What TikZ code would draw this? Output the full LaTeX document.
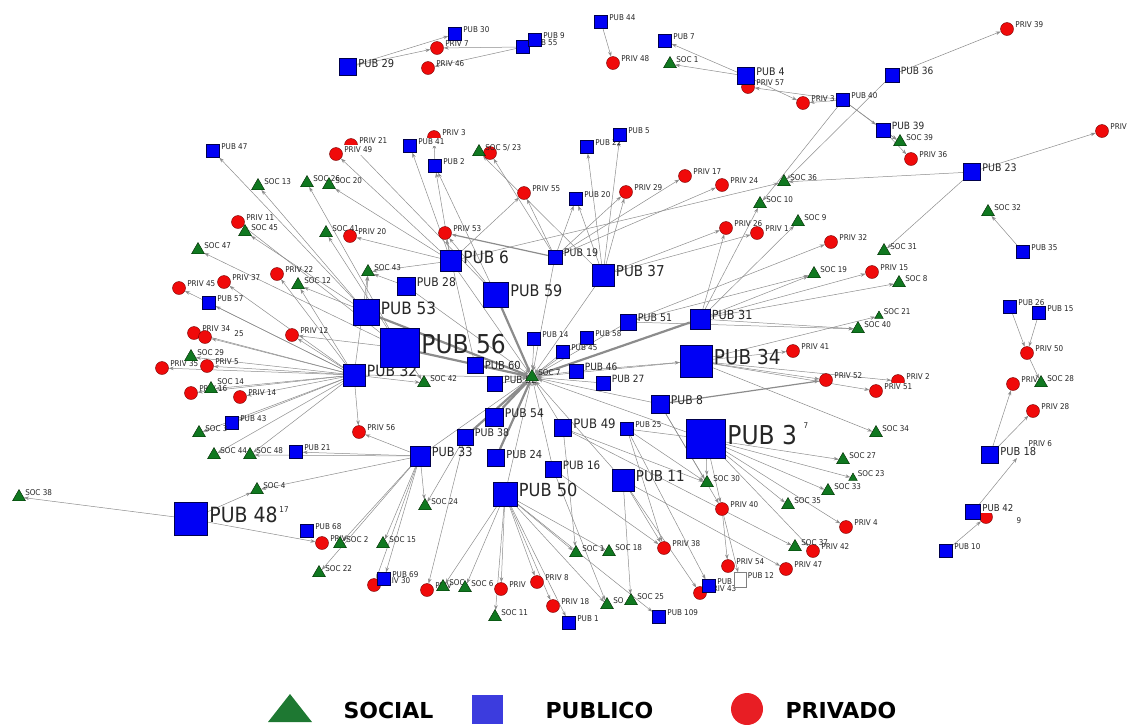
\documentclass[tikz,border=0pt]{standalone}
\usepackage{fontspec}
\setsansfont{DejaVu Sans}[FakeStretch=0.9]
\newfontfamily\legfont{DejaVu Sans}
\usetikzlibrary{shapes.geometric,arrows.meta}
\definecolor{pubblue}{RGB}{0,0,245}
\definecolor{privred}{RGB}{240,10,10}
\definecolor{socgreen}{RGB}{16,120,32}
\definecolor{edgegray}{RGB}{140,140,140}
\definecolor{legblue}{RGB}{60,60,222}
\definecolor{legred}{RGB}{232,30,36}
\definecolor{leggreen}{RGB}{30,120,50}
\pgfdeclarelayer{bg}
\pgfsetlayers{bg,main}
\tikzset{
  pubsq/.style={rectangle,draw=blue!30!black,line width=0.4pt,fill=pubblue,minimum size=13pt,inner sep=0pt},
  privdot/.style={circle,draw=red!45!black,line width=0.4pt,fill=privred,minimum size=13pt,inner sep=0pt},
  soctri/.style={regular polygon,regular polygon sides=3,draw=green!15!black,line width=0.4pt,fill=socgreen,minimum size=15pt,inner sep=0pt},
  lbl/.style={font=\sffamily\fontsize{8}{9}\selectfont,text=black!85,inner sep=1.5pt},
  tag/.style={label={[lbl,yshift=4pt]right:#1}},
  tagw/.style={label={[lbl,yshift=4pt,fill=white]right:#1}},
  edge/.style={draw=edgegray,line width=0.5pt,-{Stealth[length=5pt,width=3.5pt]}},
  heavy/.style={edge,line width=2.2pt},
}

\begin{document}
\begin{tikzpicture}[x=1pt,y=-1pt]
\useasboundingbox (0,0) rectangle (1132,724);

% privado
\foreach \n/\x/\y/\t in {priv7/437/48/PRIV 7, priv46/428/68/PRIV 46, priv48/613/63/PRIV 48,
  priv57/748/87/PRIV 57, priv3x/803/103/PRIV 3, priv39/1007/29/PRIV 39, priv36/911/159/PRIV 36,
  privR/1102/131/PRIV, priv50/1027/353/PRIV 50, priv6x/1013/384/PRIV, priv28/1033/411/PRIV 28,
  priv21/351/145/PRIV 21, priv3/434/137/PRIV 3, priv55/524/193/PRIV 55,
  priv29/626/192/PRIV 29, priv17/685/176/PRIV 17, priv24/722/185/PRIV 24, priv26/726/228/PRIV 26,
  priv1/757/233/PRIV 1, priv32/831/242/PRIV 32, priv15/872/272/PRIV 15, priv11/238/222/PRIV 11,
  priv20/350/236/PRIV 20, priv53/445/233/PRIV 53, priv22/277/274/PRIV 22, priv37/224/282/PRIV 37,
  priv45/179/288/PRIV 45, priv12/292/335/PRIV 12, priv34/194/333/PRIV 34, priv35/162/368/PRIV 35,
  priv5/207/366/PRIV 5, priv16/191/393/PRIV 16, priv14/240/397/PRIV 14, priv56/359/432/PRIV 56,
  priv41/793/351/PRIV 41, priv52/826/380/PRIV 52, priv2/898/381/PRIV 2,
  priv40/722/509/PRIV 40, priv4/846/527/PRIV 4, priv42/813/551/PRIV 42, priv47/786/569/PRIV 47,
  priv54/728/566/PRIV 54, priv43/700/593/PRIV 43, priv38/664/548/PRIV 38, priv18/553/606/PRIV 18,
  priv8/537/582/PRIV 8, privA/501/589/PRIV, privB/427/590/PRIV, priv30/374/585/PRIV 30,
  privC/322/543/PRIV}
  \node[privdot,tag=\t] (\n) at (\x,\y) {};
\foreach \n/\x/\y in {priv9/986/517, priv25/205/337, priv23/490/153}
  \node[privdot] (\n) at (\x,\y) {};
\node[privdot,tagw=PRIV 49] (priv49) at (336,154) {};
\node[privdot,tagw=PRIV 51] (priv51) at (876,391) {};
\node[lbl] (t25) at (239,334) {25};
\node[lbl] (t9) at (1019,521) {9};

% publico, small
\foreach \n/\x/\y/\t in {pub47/213/151/PUB 47, pub30/455/34/PUB 30, pub55/523/47/PUB 55,
  pub9/535/40/PUB 9, pub44/601/22/PUB 44, pub7/665/41/PUB 7, pub40/843/100/PUB 40,
  pub2/435/166/PUB 2, pub22/587/147/PUB 22, pub5/620/135/PUB 5,
  pub20/576/199/PUB 20, pub57/209/303/PUB 57, pub14/534/339/PUB 14, pub58/587/338/PUB 58,
  pub45/563/352/PUB 45, pub43/232/423/PUB 43, pub21/296/452/PUB 21, pub25/627/429/PUB 25,
  pub68/307/531/PUB 68, pub69/384/579/PUB 69, pub13/709/586/PUB 13, pub109/659/617/PUB 109,
  pub1/569/623/PUB 1, pub35/1023/252/PUB 35, pub26/1010/307/PUB 26, pub15/1039/313/PUB 15,
  pub10/946/551/PUB 10}
  \node[pubsq,tag=\t] (\n) at (\x,\y) {};
\node[pubsq,tagw=PUB 41] (pub41) at (410,146) {};
\node[pubsq,fill=white,draw=gray,minimum width=12pt,minimum height=15pt,tag=PUB 12] (pub12) at (740,580) {};

% publico, sized by degree
\foreach \n/\x/\y/\s/\f/\t in {pub29/348/67/17/11/PUB 29, pub4/746/76/17/10.5/PUB 4,
  pub36/892/75/14/10/PUB 36, pub39/883/130/14/10/PUB 39, pub23/972/172/17/10.5/PUB 23,
  pub18/990/455/17/11/PUB 18, pub46/576/371/14/10/PUB 46,
  pub27/603/383/14/10/PUB 27, pub52/495/384/15/10/PUB 52, pub6/451/261/21/17/PUB 6,
  pub19/555/257/14/10.5/PUB 19, pub37/603/275/22/15/PUB 37, pub28/406/286/18/12/PUB 28,
  pub59/496/295/25/16/PUB 59, pub53/366/312/26/17/PUB 53, pub32/354/375/22/15.5/PUB 32,
  pub51/628/322/16/10.5/PUB 51, pub31/700/319/20/12.5/PUB 31,
  pub34/696/361/32/20.5/PUB 34, pub8/660/404/18/12/PUB 8, pub54/494/417/18/12/PUB 54,
  pub38/465/437/16/10.5/PUB 38, pub49/563/428/17/13/PUB 49, pub3/706/439/39/26/PUB 3,
  pub33/420/456/20/12.5/PUB 33, pub24/496/458/17/11/PUB 24, pub16/553/469/16/11.5/PUB 16,
  pub11/623/480/22/15/PUB 11, pub50/505/494/24/18/PUB 50, pub48/191/519/33/21/PUB 48,
  pub56/400/348/39/26/PUB 56}
  \node[pubsq,minimum size=\s pt,label={[lbl,yshift=4pt,font=\sffamily\fontsize{\f}{\f}\selectfont]right:\t}] (\n) at (\x,\y) {};
\node[pubsq,minimum size=16pt,label={[lbl,yshift=0pt,font=\sffamily\fontsize{11}{11}\selectfont]right:PUB 60}] (pub60) at (475,365) {};
\node[pubsq,minimum size=15pt,label={[lbl,yshift=4pt,fill=white,font=\sffamily\fontsize{9.5}{9.5}\selectfont]right:PUB 42}] (pub42) at (973,512) {};
\node[lbl] (t7) at (806,426) {7};
\node[lbl] (t17) at (284,510) {17};

% social
\foreach \n/\x/\y/\t in {soc1/670/64/SOC 1, soc39/900/142/SOC 39, soc32/988/212/SOC 32,
  soc28/1041/383/SOC 28, soc13/258/186/SOC 13, soc26/307/183/SOC 26, soc20/329/185/SOC 20,
  soc36/784/182/SOC 36, soc10/760/204/SOC 10, soc9/798/222/SOC 9, soc31/884/251/SOC 31,
  soc19/814/274/SOC 19, soc8/899/283/SOC 8, soc40/858/329/SOC 40, soc45/245/232/SOC 45,
  soc47/198/250/SOC 47, soc41/326/233/SOC 41, soc43/368/272/SOC 43, soc12/298/285/SOC 12,
  soc29/191/357/SOC 29, soc42/424/383/SOC 42, soc7/532/377/SOC 7,
  soc3/199/433/SOC 3, soc44/214/455/SOC 44, soc48/250/455/SOC 48, soc4/257/490/SOC 4,
  soc38/19/497/SOC 38, soc24/425/506/SOC 24, soc30/707/483/SOC 30, soc35/788/505/SOC 35,
  soc34/876/433/SOC 34, soc27/843/460/SOC 27, soc33/828/491/SOC 33, soc37/795/547/SOC 37,
  soc16/576/553/SOC 1, soc18/609/552/SOC 18, soc17/607/605/SO, soc25/631/601/SOC 25,
  soc11/495/617/SOC 11, socA/443/587/SOC, soc6/465/588/SOC 6, soc2/340/544/SOC 2,
  soc15/383/544/SOC 15, soc22/319/573/SOC 22}
  \node[soctri,tag=\t] (\n) at (\x,\y) {};
\node[soctri,label={[lbl,yshift=7pt]right:SOC 14}] (soc14) at (211,389) {};
\node[soctri,minimum size=10pt,tag=SOC 21] (soc21) at (879,316) {};
\node[soctri,minimum size=10pt,tag=SOC 23] (soc23) at (853,478) {};
\node[soctri,label={[lbl,yshift=4pt]right:SOC 5/ 23}] (soc5) at (479,152) {};

\coordinate (priv6) at (1017,458);
\node[lbl,anchor=west] (t6) at (1027,444) {PRIV 6};

\begin{pgfonlayer}{bg}
\foreach \a/\b in {pub29/pub30, pub29/priv7, pub55/priv7, pub55/priv46, pub44/priv48, pub4/pub7,
  pub4/soc1, pub4/priv3x, pub40/priv57, pub40/priv3x, pub40/pub39, pub40/soc39, pub39/priv36,
  pub39/soc39, pub36/priv39, pub36/soc36, pub40/soc10, pub23/soc36, pub23/privR, pub23/soc31,
  pub35/soc32, pub26/priv50, pub15/priv50, priv50/soc28, pub18/priv28, pub18/priv6x,
  pub10/priv9, pub42/priv6,
  pub53/pub47, pub53/soc13, pub56/soc26, pub6/soc20, pub6/priv49, pub59/priv21, pub6/pub41,
  pub59/pub2, pub6/pub2, pub2/priv3, pub37/soc5, pub19/priv23, pub6/priv55, pub19/priv55,
  pub37/pub20, pub19/pub20, pub37/pub22, pub37/pub5, pub37/priv29, pub19/priv29, pub19/priv17,
  pub19/priv24, pub6/soc36, pub31/soc10, pub37/priv26, pub37/priv1, pub31/priv26, pub31/soc9,
  pub51/priv32, pub31/soc19, pub51/soc19, pub31/priv15, pub31/soc8, pub34/soc21, pub31/soc40,
  pub51/soc40,
  pub32/priv45, pub32/priv37, pub32/pub57, pub56/soc47, pub53/soc45, pub56/priv11, pub32/priv22,
  pub32/priv25, pub32/priv34, pub32/priv5, pub32/priv35, pub32/soc14, pub32/priv14, pub32/priv16,
  pub56/priv12, pub32/priv12, pub32/soc29, pub32/soc12, pub53/soc12, pub32/soc43, pub53/soc43,
  pub6/soc43, pub28/soc43, pub56/soc41, pub6/priv20, pub60/priv53, pub59/priv53, pub32/pub43,
  pub32/soc3, pub32/soc44, pub32/soc48, pub56/soc42, pub32/soc42,
  pub34/priv41, pub34/priv52, pub34/priv51, pub34/priv2, pub34/soc34, pub3/soc27, pub3/soc23,
  pub3/soc33, pub3/soc35, pub3/priv4, pub8/soc30, pub49/soc30, pub25/soc30, pub3/soc30,
  pub3/priv40, pub8/priv40, priv40/priv54, priv40/pub12, pub49/soc37, pub3/priv42, pub11/priv47,
  pub16/priv38, pub25/priv38, pub11/priv43, pub25/pub13, pub11/soc25, pub11/priv38, pub46/pub34,
  pub50/soc16, pub50/soc18, pub50/soc17, pub50/pub109, pub50/pub1, pub50/priv18, pub50/priv8,
  pub50/privA, pub50/soc11, pub50/soc6, pub50/socA, pub49/soc16, pub16/soc17,
  pub33/soc24, pub38/soc24, pub33/pub69, pub33/priv30, pub33/soc15, pub33/soc2, pub38/privB,
  pub33/soc22, pub33/priv56, pub33/pub21, pub32/priv56, pub33/soc4, pub33/soc48, pub48/soc38,
  pub48/privC, pub48/soc4,
  pub60/soc7, pub14/soc7, pub45/soc7, pub46/soc7, pub52/soc7, pub50/soc7, pub33/soc7,
  pub37/soc7, pub19/soc7, pub6/soc7, pub28/soc7, pub34/soc7, pub8/soc7, pub3/soc7, pub49/soc7,
  pub16/soc7, pub51/soc7, pub58/soc7, pub27/soc7, pub32/soc7, pub11/soc7}
  \draw[edge] (\a) -- (\b);
\draw[edgegray,line width=0.5pt] (pub25) -- (pub3);
\foreach \a/\b in {pub56/soc7, pub53/soc7, pub59/soc7, pub31/soc7, pub54/soc7, pub38/soc7, pub24/soc7}
  \draw[heavy] (\a) -- (\b);
\draw[edge,line width=1.2pt] (pub8) -- (priv52);
\draw[edge,line width=1.2pt] (pub19) -- (priv53);
\end{pgfonlayer}

% legend
\fill[leggreen] (268,722) -- (312,722) -- (290,694) -- cycle;
\fill[legblue] (472,695) rectangle (503,724);
\fill[legred] (747,709) circle[radius=16];
\node[anchor=west,font=\legfont\bfseries\fontsize{22}{22}\selectfont] (legsoc) at (340,710) {SOCIAL};
\node[anchor=west,font=\legfont\bfseries\fontsize{22}{22}\selectfont] (legpub) at (542,710) {PUBLICO};
\node[anchor=west,font=\legfont\bfseries\fontsize{22}{22}\selectfont] (legpriv) at (782,710) {PRIVADO};
\end{tikzpicture}
\end{document}
